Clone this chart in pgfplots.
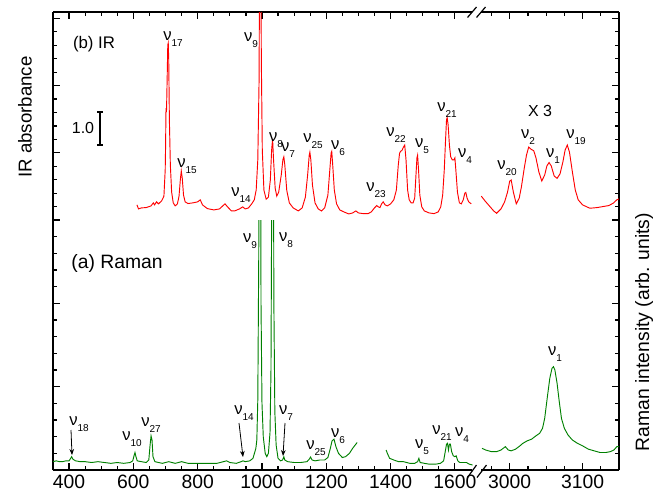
\documentclass[border=0pt]{standalone}
\usepackage{fontspec}
\setmainfont{Liberation Sans}
\usepackage{pgfplots}
\pgfplotsset{compat=1.18}
\usetikzlibrary{arrows.meta}
\definecolor{irred}{RGB}{255,0,0}
\definecolor{ramangreen}{RGB}{0,128,0}
\newcommand{\vib}[1]{ν\raisebox{-5pt}{\fontsize{7.5}{8}\selectfont #1}}

\pgfplotsset{
  every non boxed x axis/.style={},
  every non boxed y axis/.style={},
  brokenx/.style={
    scale only axis, width=424.5pt,
    xmin=350, xmax=3150, enlargelimits=false,
    x coord trafo/.code={\pgfmathparse{##1<2000 ? ##1 : 1770.6+(##1-3000)*2.266}},
    xtick={400,600,800,1000,1200,1400,1600,3000,3100},
    minor xtick={350,450,500,550,650,700,750,850,900,950,1050,1100,1150,1250,1300,1350,1450,1500,1550,2975,3025,3050,3075,3125,3150},
    yticklabels={}, ytick pos=both,
    tick align=inside,
    major tick length=5.25pt, minor tick length=3pt,
    axis line style={-, line width=1.1pt},
    every tick/.style={black, line width=0.9pt},
    tick label style={font=\fontsize{14.5}{16}\selectfont},
  },
}

\begin{document}
\begin{tikzpicture}
\begin{scope}[shift={(0,370.5pt)},x=0.75pt,y=-0.75pt]
\path[use as bounding box] (0,0) rectangle (663,494);
\end{scope}

% (b) IR
\begin{axis}[brokenx, at={(39.75pt,205.5pt)}, anchor=south west, height=156pt,
  axis x line=top, axis y line=box, xticklabels={},
  ymin=0, ymax=6.19, ytick={0,2,4,6}, minor y tick num=4]
\addplot[irred, line width=0.7pt] coordinates {
(611,0.45) (616,0.33) (625,0.36) (640,0.37) (655,0.42) (662,0.51) (666,0.45) (672,0.54) (678,0.48)
(688,0.57) (695,0.71) (699,1.49) (700,2.08) (701.5,3.33) (703,3.21) (705,4.17) (707,5.21) (708.5,5.27)
(710,4.76) (712,2.98) (715,1.64) (719,0.83) (724,0.51) (730,0.42) (737,0.48) (742,0.71) (746,1.19)
(749,1.46) (752,1.25) (756,0.74) (761,0.54) (770,0.49) (785,0.51) (800,0.54) (808,0.60) (815,0.45)
(830,0.34) (850,0.30) (868,0.33) (878,0.42) (885,0.48) (893,0.39) (905,0.27) (915,0.27) (930,0.33)
(940,0.39) (948,0.33) (958,0.36) (968,0.48) (976,0.60) (982,0.89) (987,1.79) (991,4.17) (993,9)
(996,9) (998,4.76) (1001,2.08) (1006,0.89) (1013,0.62) (1020,0.68) (1026,1.19) (1030,2.08) (1033,2.41)
(1036,1.79) (1041,0.95) (1046,0.71) (1052,0.83) (1060,1.34) (1065,1.79) (1068,1.88) (1071,1.64)
(1077,0.89) (1085,0.51) (1097,0.36) (1113,0.27) (1125,0.36) (1135,0.68) (1142,1.34) (1147,1.93)
(1149,2.02) (1152,1.79) (1157,1.04) (1165,0.51) (1175,0.33) (1185,0.27) (1195,0.36) (1205,0.74)
(1211,1.49) (1215,1.99) (1217,2.04) (1220,1.64) (1225,0.89) (1232,0.48) (1242,0.30) (1255,0.24)
(1270,0.18) (1282,0.21) (1292,0.27) (1300,0.21) (1315,0.19) (1330,0.19) (1340,0.24) (1350,0.36)
(1357,0.43) (1362,0.39) (1367,0.37) (1372,0.48) (1377,0.54) (1383,0.45) (1390,0.42) (1400,0.48)
(1410,0.60) (1418,0.89) (1424,1.64) (1428,1.99) (1431,2.04) (1436,2.08) (1440,2.17) (1444,2.23)
(1448,1.79) (1453,0.89) (1458,0.60) (1464,0.51) (1470,0.51) (1475,0.65) (1479,1.34) (1482,1.85)
(1484,1.93) (1487,1.49) (1491,0.74) (1497,0.39) (1505,0.27) (1520,0.21) (1535,0.19) (1548,0.24)
(1556,0.39) (1562,0.74) (1567,1.49) (1571,2.38) (1574,2.98) (1576,3.05) (1579,2.83) (1583,2.23)
(1587,1.88) (1592,1.79) (1597,1.79) (1600,1.85) (1603,1.49) (1608,0.83) (1614,0.51) (1620,0.48)
(1626,0.60) (1631,0.80) (1634,0.82) (1638,0.65) (1643,0.54) (1651,0.48)
};
\addplot[irred, line width=0.7pt] coordinates {
(2961,0.71) (2966,0.57) (2972,0.42) (2978,0.27) (2982,0.20) (2988,0.33) (2993,0.54) (2997,0.83)
(3000,1.16) (3002,1.19) (3005,0.83) (3009,0.48) (3013,0.65) (3016,0.98) (3020,1.55) (3023,1.93)
(3026,2.17) (3029,2.11) (3033,2.06) (3036,1.85) (3040,1.43) (3044,1.16) (3048,1.34) (3051,1.61)
(3054,1.71) (3057,1.61) (3061,1.31) (3065,1.24) (3069,1.37) (3073,1.73) (3076,2.08) (3079,2.23)
(3082,2.02) (3086,1.43) (3090,0.89) (3094,0.60) (3100,0.45) (3110,0.35) (3120,0.37) (3128,0.40)
(3136,0.43) (3142,0.50) (3147,0.60) (3150,0.63)
};
\end{axis}

% (a) Raman
\begin{axis}[brokenx, at={(39.75pt,18pt)}, anchor=south west, height=187.5pt,
  axis x line=bottom, axis y line=box,
  xticklabels={400,600,800,1000,1200,1400,1600,3000,3100},
  ymin=0, ymax=3, ytick={0,1,2,3}, minor y tick num=4]
\addplot[ramangreen, line width=0.7pt] coordinates {
(350,0.10) (360,0.11) (370,0.10) (380,0.10) (390,0.11) (400,0.11) (405,0.14) (408,0.16) (412,0.13)
(420,0.11) (435,0.10) (450,0.10) (470,0.09) (490,0.10) (510,0.09) (530,0.08) (550,0.09) (570,0.08)
(590,0.09) (598,0.11) (602,0.17) (605,0.21) (608,0.16) (612,0.11) (625,0.10) (640,0.09) (648,0.12)
(652,0.30) (655,0.41) (658,0.36) (661,0.16) (667,0.10) (690,0.08) (710,0.10) (730,0.08) (750,0.10)
(770,0.08) (800,0.08) (830,0.08) (860,0.08) (880,0.10) (890,0.11) (900,0.09) (920,0.08) (935,0.10)
(941,0.11) (948,0.10) (962,0.11) (972,0.14) (978,0.22) (981,0.26) (984,0.36) (987,0.84) (990,2.6)
(992,5) (995,5) (997,2.0) (1000,0.8) (1004,0.4) (1010,0.2) (1015,0.16) (1020,0.2) (1025,0.45)
(1028,1.2) (1030,3.0) (1032,5) (1035,5) (1037,2.0) (1040,0.7) (1044,0.3) (1050,0.14) (1058,0.11)
(1064,0.12) (1068,0.16) (1071,0.12) (1080,0.10) (1100,0.09) (1120,0.09) (1140,0.10) (1147,0.13)
(1151,0.155) (1156,0.12) (1165,0.11) (1180,0.12) (1195,0.12) (1205,0.15) (1212,0.25) (1218,0.35)
(1224,0.37) (1230,0.28) (1238,0.20) (1250,0.15) (1260,0.16) (1272,0.20) (1282,0.26) (1290,0.30)
(1296,0.33)
};
\addplot[ramangreen, line width=0.7pt] coordinates {
(1386,0.24) (1390,0.20) (1397,0.14) (1410,0.12) (1425,0.10) (1440,0.10) (1460,0.08) (1475,0.08)
(1484,0.10) (1488,0.14) (1492,0.09) (1505,0.08) (1520,0.07) (1540,0.07) (1555,0.08) (1565,0.11)
(1570,0.22) (1574,0.31) (1577,0.32) (1580,0.24) (1583,0.31) (1586,0.31) (1590,0.22) (1595,0.17)
(1600,0.16) (1604,0.17) (1609,0.11) (1615,0.09) (1625,0.09) (1636,0.09) (1645,0.07) (1655,0.06)
};
\addplot[ramangreen, line width=0.7pt] coordinates {
(2962,0.26) (2967,0.24) (2975,0.22) (2982,0.22) (2988,0.24) (2994,0.28) (2998,0.24) (3002,0.23)
(3008,0.25) (3014,0.29) (3018,0.32) (3024,0.35) (3030,0.37) (3036,0.41) (3041,0.44) (3045,0.50)
(3048,0.62) (3052,0.90) (3055,1.10) (3058,1.22) (3060,1.24) (3062,1.20) (3065,1.04) (3068,0.82)
(3071,0.62) (3075,0.50) (3080,0.42) (3086,0.36) (3093,0.32) (3100,0.29) (3108,0.25) (3116,0.23)
(3124,0.21) (3132,0.21) (3138,0.22) (3143,0.24) (3147,0.28) (3150,0.28)
};
\end{axis}

% annotations in image pixel units
\begin{scope}[shift={(0,370.5pt)},x=0.75pt,y=-0.75pt,
  lab/.style={inner sep=0pt, font=\fontsize{12.5}{13}\selectfont}]
% axis break marks
\fill[white] (472,9) rectangle (481,15);
\fill[white] (472,467) rectangle (481,473);
\draw[line width=0.9pt] (467.5,17.5) -- (476.5,7) (476.5,17.5) -- (485.5,7);
\draw[line width=0.9pt] (467.5,477.5) -- (476.5,465) (477,477.5) -- (486.5,465);
% axis titles
\node[rotate=90, font=\fontsize{14}{16}\selectfont] at (25,117) {IR absorbance};
\node[rotate=90, font=\fontsize{14.5}{16}\selectfont] at (644,332) {Raman intensity (arb. units)};
% panel labels
\node[inner sep=0pt, font=\fontsize{12.6}{14}\selectfont] at (94,44) {(b) IR};
\node[inner sep=0pt, font=\fontsize{14.5}{16}\selectfont] at (117,263) {(a) Raman};
\node[inner sep=0pt, font=\fontsize{12}{14}\selectfont] at (540,111) {X 3};
% scale bar
\node[inner sep=0pt, font=\fontsize{12}{14}\selectfont] at (83,128) {1.0};
\draw[line width=0.8pt] (100,112) -- (100,145) (97,112) -- (103,112) (97,145) -- (103,145);
% IR mode labels
\node[lab] at (173,39) {\vib{17}};
\node[lab] at (251,40) {\vib{9}};
\node[lab] at (187,166) {\vib{15}};
\node[lab] at (241,195) {\vib{14}};
\node[lab] at (276,140) {\vib{8}};
\node[lab] at (288,150) {\vib{7}};
\node[lab] at (313,141) {\vib{25}};
\node[lab] at (338,148) {\vib{6}};
\node[lab] at (376,190) {\vib{23}};
\node[lab] at (396,135) {\vib{22}};
\node[lab] at (422,146) {\vib{5}};
\node[lab] at (447,110) {\vib{21}};
\node[lab] at (465,156) {\vib{4}};
\node[lab] at (507,168) {\vib{20}};
\node[lab] at (528,137) {\vib{2}};
\node[lab] at (553,156) {\vib{1}};
\node[lab] at (576,137) {\vib{19}};
% Raman mode labels
\node[lab] at (250,241) {\vib{9}};
\node[lab] at (286,240) {\vib{8}};
\node[lab] at (79,424) {\vib{18}};
\node[lab] at (132,439) {\vib{10}};
\node[lab] at (151,425) {\vib{27}};
\node[lab] at (244,413) {\vib{14}};
\node[lab] at (286,413) {\vib{7}};
\node[lab] at (316,448) {\vib{25}};
\node[lab] at (338,436) {\vib{6}};
\node[lab] at (422,447) {\vib{5}};
\node[lab] at (442,433) {\vib{21}};
\node[lab] at (462,435) {\vib{4}};
\node[lab] at (555,354) {\vib{1}};
\draw[-{Stealth[length=4.5pt,width=3.5pt]}, line width=0.6pt] (71,430) -- (72,455);
\draw[-{Stealth[length=4.5pt,width=3.5pt]}, line width=0.6pt] (239,423) -- (243,457);
\draw[-{Stealth[length=4.5pt,width=3.5pt]}, line width=0.6pt] (285,423) -- (283,456);
\end{scope}
\end{tikzpicture}
\end{document}
